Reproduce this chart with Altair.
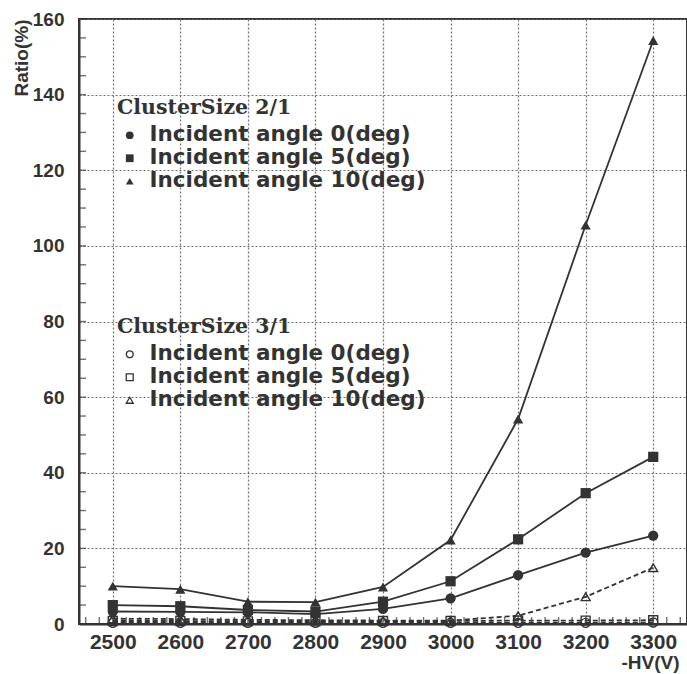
import altair as alt
import pandas as pd

# High-voltage settings (V)
hv = [2500, 2600, 2700, 2800, 2900, 3000, 3100, 3200, 3300]

# Cluster size 2/1 ratio (%) for each incident angle
cs2_angle0 = [3.3, 3.2, 3.1, 2.6, 4.0, 6.8, 12.9, 18.9, 23.4]
cs2_angle5 = [5.0, 4.7, 3.7, 3.3, 5.9, 11.3, 22.4, 34.6, 44.2]
cs2_angle10 = [10.0, 9.2, 5.9, 5.8, 9.8, 22.2, 54.2, 105.5, 154.3]

# Cluster size 3/1 ratio (%) for each incident angle
cs3_angle0 = [0.3, 0.3, 0.3, 0.3, 0.3, 0.3, 0.3, 0.3, 0.4]
cs3_angle5 = [0.8, 0.8, 0.7, 0.7, 0.8, 0.8, 0.9, 0.9, 1.0]
cs3_angle10 = [1.4, 1.3, 1.1, 1.0, 0.9, 0.9, 2.2, 7.2, 14.9]

angle_labels = ["Incident angle 0(deg)", "Incident angle 5(deg)", "Incident angle 10(deg)"]

# Minor tick positions along each axis
x_minor = list(range(2460, 3341, 20))
y_minor = list(range(0, 161, 5))


def long_table(series, key):
    rows = []
    for lab, vals in zip(angle_labels, series):
        for h, v in zip(hv, vals):
            rows.append({"hv": h, "ratio": v, key: lab})
    return pd.DataFrame(rows)


df2 = long_table([cs2_angle0, cs2_angle5, cs2_angle10], "angle2")
df3 = long_table([cs3_angle0, cs3_angle5, cs3_angle10], "angle3")

ink = "#333333"
grid_col = "#707070"

x_scale = alt.Scale(domain=[2450, 3350], nice=False, zero=False)
y_scale = alt.Scale(domain=[0, 160], nice=False)

x_enc = alt.X(
    "hv:Q",
    scale=x_scale,
    axis=alt.Axis(
        values=list(range(2500, 3301, 100)),
        format="d",
        labelOverlap=False,
        labelFlush=False,
        labelFont="Liberation Sans",
        labelFontSize=21,
        labelFontWeight="bold",
        labelColor=ink,
        labelPadding=7,
        ticks=False,
        domainColor=ink,
        domainWidth=2,
        gridColor=grid_col,
        gridDash=[2, 2],
        gridWidth=1.2,
        title="-HV(V)",
        titleFont="Liberation Sans",
        titleFontSize=19,
        titleFontWeight="bold",
        titleColor=ink,
        titleX=600,
        titleY=38,
        titleAlign="right",
        titleBaseline="middle",
        titleAnchor="end",
    ),
)

y_enc = alt.Y(
    "ratio:Q",
    scale=y_scale,
    axis=alt.Axis(
        values=list(range(0, 161, 20)),
        labelOverlap=False,
        labelFlush=False,
        labelFont="Liberation Sans",
        labelFontSize=19,
        labelFontWeight="bold",
        labelColor=ink,
        labelPadding=15,
        ticks=False,
        domainColor=ink,
        domainWidth=2,
        gridColor=grid_col,
        gridDash=[2, 2],
        gridWidth=1.2,
        title="Ratio(%)",
        titleFont="Liberation Sans",
        titleFontSize=19,
        titleFontWeight="bold",
        titleColor=ink,
        titleAngle=270,
        titleX=-58,
        titleY=0,
        titleAlign="right",
        titleBaseline="middle",
    ),
)

legend_common = dict(
    orient="none",
    padding=0,
    titleFont="DejaVu Serif",
    titleFontSize=20.5,
    titleFontWeight="bold",
    titleColor=ink,
    titlePadding=6,
    labelFont="DejaVu Sans",
    labelFontSize=21.5,
    labelFontWeight="bold",
    labelColor=ink,
    labelLimit=400,
    rowPadding=0,
    symbolOffset=2,
    labelOffset=9,
)

# Inward-pointing minor ticks on the bottom and left axes
xticks = alt.Chart(pd.DataFrame({"hv": x_minor})).mark_tick(
    color=ink, thickness=1.4, size=7, yOffset=-3.5, orient="vertical"
).encode(x=alt.X("hv:Q", scale=x_scale), y=alt.YDatum(0, scale=y_scale))

yticks = alt.Chart(pd.DataFrame({"ratio": y_minor})).mark_tick(
    color=ink, thickness=1.4, size=7, xOffset=3.5, orient="horizontal"
).encode(y=alt.Y("ratio:Q", scale=y_scale), x=alt.XDatum(2450, scale=x_scale))

lines2 = alt.Chart(df2).mark_line(color=ink, strokeWidth=1.8).encode(
    x=x_enc, y=y_enc, detail="angle2:N"
)
points2 = alt.Chart(df2).mark_point(filled=True, color=ink, opacity=1, size=105).encode(
    x=x_enc,
    y=y_enc,
    shape=alt.Shape(
        "angle2:N",
        scale=alt.Scale(domain=angle_labels, range=["circle", "square", "triangle-up"]),
        legend=alt.Legend(
            title="ClusterSize 2/1",
            legendX=38,
            legendY=79,
            symbolSize=60,
            symbolFillColor=ink,
            symbolStrokeColor=ink,
            **legend_common,
        ),
    ),
)

lines3 = alt.Chart(df3).mark_line(color=ink, strokeWidth=1.8, strokeDash=[5, 3]).encode(
    x=x_enc, y=y_enc, detail="angle3:N"
)
points3 = alt.Chart(df3).mark_point(
    filled=False, color=ink, strokeWidth=1.4, opacity=1, size=80
).encode(
    x=x_enc,
    y=y_enc,
    shape=alt.Shape(
        "angle3:N",
        scale=alt.Scale(domain=angle_labels, range=["circle", "square", "triangle-up"]),
        legend=alt.Legend(
            title="ClusterSize 3/1",
            legendX=38,
            legendY=298,
            symbolSize=48,
            symbolFillColor="transparent",
            symbolStrokeColor=ink,
            symbolStrokeWidth=1.3,
            **legend_common,
        ),
    ),
)

chart = (
    alt.layer(lines3, points3, lines2, points2, xticks, yticks)
    .resolve_scale(shape="independent")
    .properties(
        width=608,
        height=605,
        autosize=alt.AutoSizeParams(type="none"),
        padding={"left": 79, "top": 19, "right": 0, "bottom": 50},
        background="white",
    )
    .configure_view(stroke=ink, strokeWidth=2)
)

chart.save("out.html", embed_options={"renderer": "svg", "actions": False})
